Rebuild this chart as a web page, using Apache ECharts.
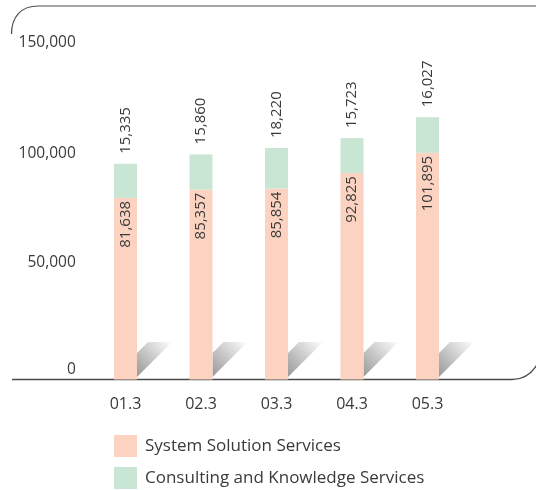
<!DOCTYPE html>
<html>
<head>
<meta charset="utf-8">
<script src="https://cdn.jsdelivr.net/npm/echarts@6/dist/echarts.min.js"></script>
<style>
  html, body { margin: 0; padding: 0; background: #fff; }
  #chart { width: 536px; height: 490px; }
</style>
</head>
<body>
<div id="chart"></div>
<script>
// data
const periods = ['01.3', '02.3', '03.3', '04.3', '05.3'];
const systemSolution = [81638, 85357, 85854, 92825, 101895];
const consulting = [15335, 15860, 18220, 15723, 16027];
const seriesNames = ['System Solution Services', 'Consulting and Knowledge Services'];
const yTicks = [0, 50000, 100000, 150000];

const FONT = '"Open Sans", "Noto Sans", sans-serif';
const TEXT = '#3a3a3a';
const FRAME = '#4a4a4a';
const fmt = v => v.toLocaleString('en-US');

const chart = echarts.init(document.getElementById('chart'));

// tick labels in the picture sit a little above their ticks, more so near zero
const tickStyle = ['d', 'c', 'b', 'a'];

// one legend per row so they stack vertically
const legendRow = (name, top) => ({
    left: 109,
    top: top,
    itemWidth: 23,
    itemHeight: 22,
    icon: 'rect',
    data: [name],
    textStyle: { color: TEXT, fontSize: 17, fontFamily: FONT, padding: [0, 0, 0, 3] }
});

const option = {
    animation: false,
    grid: { left: 87.75, right: 70.75, top: 45.9, bottom: 110.5 },
    legend: [legendRow(seriesNames[0], 430), legendRow(seriesNames[1], 462)],
    xAxis: {
        type: 'category',
        data: periods,
        axisLine: { show: false },
        axisTick: { show: false },
        axisLabel: { color: TEXT, fontSize: 16, fontFamily: FONT, margin: 17 }
    },
    yAxis: {
        type: 'value',
        min: 0,
        max: 150000,
        interval: 50000,
        splitLine: { show: false },
        axisLine: { show: false },
        axisTick: { show: false },
        axisLabel: {
            color: TEXT,
            fontSize: 15.5,
            fontFamily: FONT,
            margin: 12,
            formatter: v => `{${tickStyle[yTicks.indexOf(v)]}|${fmt(v)}}`,
            rich: {
                a: { fontSize: 15.5, fontFamily: FONT, color: TEXT, padding: [0, 0, 6, 0] },
                b: { fontSize: 15.5, fontFamily: FONT, color: TEXT, padding: [0, 0, 8, 0] },
                c: { fontSize: 15.5, fontFamily: FONT, color: TEXT, padding: [0, 0, 11, 0] },
                d: { fontSize: 15.5, fontFamily: FONT, color: TEXT, padding: [0, 0, 19, 0] }
            }
        }
    },
    series: [
        {
            // grey shading behind each bar foot
            type: 'custom',
            silent: true,
            z: 1,
            data: periods.map((_, i) => [i, 0]),
            renderItem: (params, api) => {
                const p = api.coord([api.value(0), 0]);
                const x = p[0] + 11.5, y = p[1];
                return {
                    type: 'polygon',
                    shape: { points: [[x, y - 2.5], [x, y - 26.5], [x + 11, y - 37.5], [x + 35, y - 37.5]] },
                    style: {
                        fill: {
                            type: 'linear', x: 0, y: 1, x2: 1, y2: 0,
                            colorStops: [
                                { offset: 0, color: '#979797' },
                                { offset: 1, color: '#fdfdfd' }
                            ]
                        }
                    }
                };
            }
        },
        {
            name: seriesNames[0],
            type: 'bar',
            stack: 'total',
            barWidth: 23,
            z: 2,
            data: systemSolution,
            itemStyle: { color: '#fcd3c1' },
            label: {
                show: true,
                position: 'insideTop',
                rotate: 90,
                align: 'right',
                verticalAlign: 'middle',
                distance: 3,
                color: TEXT,
                fontSize: 15,
                fontFamily: FONT,
                formatter: p => fmt(p.value)
            }
        },
        {
            name: seriesNames[1],
            type: 'bar',
            stack: 'total',
            barWidth: 23,
            z: 2,
            data: consulting,
            itemStyle: { color: '#c9e5d3' },
            label: {
                show: true,
                position: 'top',
                rotate: 90,
                align: 'left',
                verticalAlign: 'middle',
                distance: 10,
                color: TEXT,
                fontSize: 15,
                fontFamily: FONT,
                formatter: p => fmt(p.value)
            }
        }
    ],
    graphic: [
        // rounded frame: top-left corner + top edge, bottom edge + bottom-right corner
        {
            type: 'bezierCurve', silent: true,
            shape: { x1: 11.5, y1: 34, cpx1: 11.5, cpy1: 17, cpx2: 21, cpy2: 6, x2: 38, y2: 6 },
            style: { fill: null, stroke: FRAME, lineWidth: 1.2 }
        },
        {
            type: 'line', silent: true,
            shape: { x1: 38, y1: 6, x2: 540, y2: 6 },
            style: { stroke: FRAME, lineWidth: 1.2 }
        },
        {
            type: 'line', silent: true,
            shape: { x1: 12, y1: 379.5, x2: 512, y2: 379.5 },
            style: { stroke: FRAME, lineWidth: 1.4 }
        },
        {
            type: 'bezierCurve', silent: true,
            shape: { x1: 512, y1: 379.5, cpx1: 524, cpy1: 379.5, cpx2: 532, cpy2: 374, x2: 538, y2: 363 },
            style: { fill: null, stroke: FRAME, lineWidth: 1.4 }
        }
    ]
};

chart.setOption(option);
</script>
</body>
</html>
